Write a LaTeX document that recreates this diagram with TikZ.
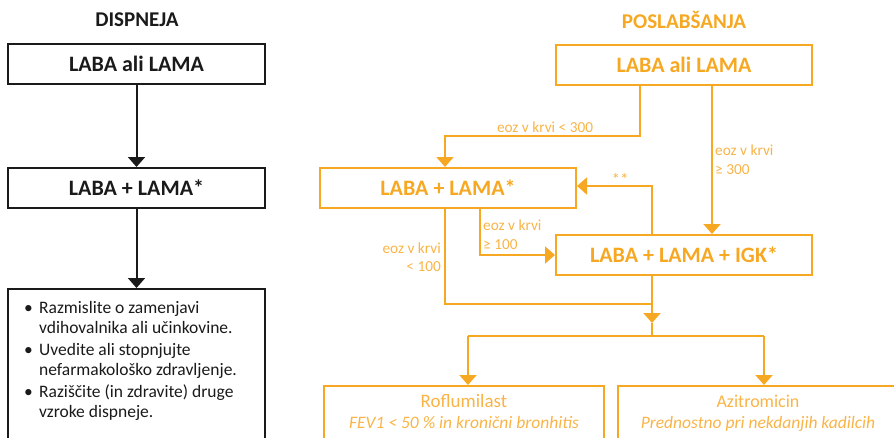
\documentclass[tikz,border=0pt]{standalone}
\usepackage{fontspec}
\setmainfont{Carlito}
\usetikzlibrary{arrows.meta,calc}
\definecolor{org}{HTML}{F7A823}
\definecolor{orgl}{HTML}{F9B447}
\definecolor{blk}{HTML}{1A1A1A}
\begin{document}
\begin{tikzpicture}[x=1pt,y=-1pt,
  kbox/.style={draw=blk, line width=2pt, minimum width=257pt, minimum height=40pt, inner sep=0pt,
    font=\fontsize{22}{26}\selectfont\bfseries, text=blk},
  obox/.style={draw=org, line width=2pt, minimum width=256pt, minimum height=40pt, inner sep=0pt,
    font=\fontsize{22}{26}\selectfont\bfseries, text=org},
  title/.style={font=\fontsize{21}{25}\selectfont\bfseries, inner sep=0pt},
  btxt/.style={anchor=base west, inner sep=0pt, font=\fontsize{17.5}{20}\selectfont, text=blk},
  lbl/.style={inner sep=0pt, font=\fontsize{15.3}{18}\selectfont, text=orgl},
  rtxt/.style={anchor=base, inner sep=0pt, font=\fontsize{17.5}{20}\selectfont, text=orgl},
  karr/.style={draw=blk, line width=2pt, -{Triangle[width=17pt,length=10pt]}},
  oarr/.style={draw=org, line width=2pt, -{Triangle[width=17pt,length=10pt]}},
  oline/.style={draw=org, line width=2pt}]
\useasboundingbox (0,0) rectangle (894,437);

% ---------- left column ----------
\node[title, text=blk] (tl) at (137,20) {DISPNEJA};
\node[kbox] (l1) at (136.5,64) {LABA ali LAMA};
\node[kbox] (l2) at (136.5,188) {LABA + LAMA*};
\node[kbox, anchor=north, minimum height=170pt] (l3) at (136.5,288) {};
\node[btxt] (t1) at (24,313) {\makebox[15pt][l]{•}Razmislite o zamenjavi};
\node[btxt] (t2) at (39,333) {vdihovalnika ali učinkovine.};
\node[btxt] (t3) at (24,355) {\makebox[15pt][l]{•}Uvedite ali stopnjujte};
\node[btxt] (t4) at (39,375) {nefarmakološko zdravljenje.};
\node[btxt] (t5) at (24,397) {\makebox[15pt][l]{•}Raziščite (in zdravite) druge};
\node[btxt] (t6) at (39,417) {vzroke dispneje.};
\draw[karr] (l1.south) -- (l2.north);
\draw[karr] (l2.south) -- (l3.north);

% ---------- right column ----------
\node[title, text=org] (tr) at (684,20) {POSLABŠANJA};
\node[obox] (r1) at (684,64.5) {LABA ali LAMA};
\node[obox] (r2) at (448,188) {LABA + LAMA*};
\node[obox] (r3) at (684,255) {LABA + LAMA + IGK*};
\node[draw=org, line width=2pt, minimum width=280pt, minimum height=80pt, anchor=north, inner sep=0pt] (r4) at (464,385) {};
\node[draw=org, line width=2pt, minimum width=280pt, minimum height=80pt, anchor=north, inner sep=0pt] (r5) at (758,385) {};
\node[rtxt, font=\fontsize{19}{22}\selectfont] (r4a) at (464,407) {Roflumilast};
\node[rtxt] (r4b) at (464,428) {\textit{FEV1 < 50 \% in kronični bronhitis}};
\node[rtxt, font=\fontsize{18}{22}\selectfont] (r5a) at (758,407) {Azitromicin};
\node[rtxt] (r5b) at (758,428) {\textit{Prednostno pri nekdanjih kadilcih}};

\coordinate (a1) at (640,136);
\coordinate (a2) at (445,136);
\draw[oarr] (r1.south -| a1) -- (a1) -- (a2) -- (r2.north -| a2);
\node[lbl, anchor=base] (la) at (545,132) {eoz v krvi < 300};

\coordinate (a3) at (712,100);
\draw[oarr] (r1.south -| a3) -- (r3.north -| a3);
\node[lbl, anchor=base west] (lb1) at (715,155) {eoz v krvi};
\node[lbl, anchor=base west] (lb2) at (715,174) {≥ 300};

\coordinate (a4) at (652,186);
\draw[oarr] (r3.north -| a4) -- (a4) -- (r2.east |- a4);
\node[lbl, anchor=base, font=\fontsize{17}{18}\selectfont] (lc) at (620,185) {**};

\coordinate (a5) at (480,255);
\draw[oarr] (r2.south -| a5) -- (a5) -- (r3.west);
\node[lbl, anchor=base west] (ld1) at (483,230) {eoz v krvi};
\node[lbl, anchor=base west] (ld2) at (483,249) {≥ 100};

\coordinate (a6) at (445,304);
\coordinate (a7) at (652,304);
\draw[oline] (r2.south -| a6) -- (a6) -- (a7);
\node[lbl, anchor=base east] (le1) at (441,253) {eoz v krvi};
\node[lbl, anchor=base east] (le2) at (441,271) {< 100};

\coordinate (m1) at (652,323);
\coordinate (m2) at (652,336);
\draw[oarr] (r3.south -| m1) -- (m1);
\draw[oline] (m1) -- (m2);
\coordinate (s4) at (468,336);
\coordinate (s5) at (764,336);
\draw[oline] (s4) -- (s5);
\draw[oarr] (s4) -- (r4.north -| s4);
\draw[oarr] (s5) -- (r5.north -| s5);
\end{tikzpicture}
\end{document}
